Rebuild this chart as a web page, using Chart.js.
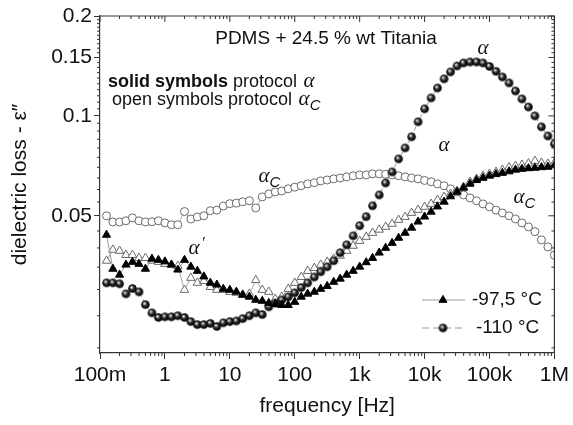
<!DOCTYPE html>
<html>
<head>
<meta charset="utf-8">
<script src="https://cdn.jsdelivr.net/npm/chart.js@4.4.1/dist/chart.umd.min.js"></script>
<style>
  html, body { margin: 0; padding: 0; background: #fff; }
  #wrap { width: 573px; height: 425px; }
</style>
</head>
<body>
<div id="wrap"><canvas id="chart" width="573" height="425"></canvas></div>
<script>
// frequency points [Hz], 10 per decade
const FREQ = [
  0.126, 0.158, 0.2, 0.251, 0.316, 0.398, 0.501, 0.631, 0.794,
  1, 1.26, 1.58, 2, 2.51, 3.16, 3.98, 5.01, 6.31, 7.94,
  10, 12.6, 15.8, 20, 25.1, 31.6, 39.8, 50.1, 63.1, 79.4,
  100, 126, 158, 200, 251, 316, 398, 501, 631, 794,
  1e3, 1.26e3, 1.58e3, 2e3, 2.51e3, 3.16e3, 3.98e3, 5.01e3, 6.31e3, 7.94e3,
  1e4, 1.26e4, 1.58e4, 2e4, 2.51e4, 3.16e4, 3.98e4, 5.01e4, 6.31e4, 7.94e4,
  1e5, 1.26e5, 1.58e5, 2e5, 2.51e5, 3.16e5, 3.98e5, 5.01e5, 6.31e5, 7.94e5,
  1e6
];

// -97,5 C, protocol alpha (solid triangles)
const TRI_SOLID = [
  0.0438, 0.0346, 0.0332, 0.0356, 0.0363, 0.0358, 0.0346, 0.0371, 0.0368,
  0.0364, 0.0356, 0.0344, 0.0368, 0.0351, 0.0341, 0.0328, 0.0314, 0.0310, 0.0301,
  0.0299, 0.0295, 0.0289, 0.0285, 0.0279, 0.0277, 0.0273, 0.0271, 0.0269, 0.0269,
  0.0275, 0.0285, 0.0291, 0.0295, 0.0301, 0.0307, 0.0316, 0.0323, 0.0332, 0.0341,
  0.0351, 0.0362, 0.0373, 0.0387, 0.0400, 0.0414, 0.0429, 0.0444, 0.0460, 0.0480,
  0.0497, 0.0514, 0.0533, 0.0551, 0.0572, 0.0590, 0.0607, 0.0624, 0.0640, 0.0650,
  0.0660, 0.0667, 0.0673, 0.0680, 0.0688, 0.0692, 0.0695, 0.0697, 0.0700, 0.0702,
  0.0709
];

// -97,5 C, protocol alpha_C (open triangles)
const TRI_OPEN = [
  0.0366, 0.0395, 0.0392, 0.0381, 0.0381, 0.0373, 0.0373, 0.0366, 0.0363,
  0.0358, 0.0356, 0.0353, 0.0299, 0.0325, 0.0314, 0.0318, 0.0305, 0.0299, 0.0299,
  0.0295, 0.0293, 0.0289, 0.0291, 0.0320, 0.0299, 0.0295, 0.0281, 0.0285, 0.0301,
  0.0314, 0.0327, 0.0341, 0.0348, 0.0356, 0.0363, 0.0371, 0.0379, 0.0392, 0.0406,
  0.0420, 0.0432, 0.0444, 0.0454, 0.0463, 0.0473, 0.0486, 0.0496, 0.0510, 0.0521,
  0.0532, 0.0543, 0.0558, 0.0570, 0.0582, 0.0594, 0.0611, 0.0633, 0.0646, 0.0660,
  0.0669, 0.0678, 0.0688, 0.0700, 0.0707, 0.0712, 0.0719, 0.0732, 0.0722, 0.0717,
  0.0722
];

// -110 C, protocol alpha (solid spheres)
const BALL_SOLID = [
  0.0314, 0.0314, 0.0312, 0.0291, 0.0302, 0.0295, 0.0270, 0.0255, 0.0247,
  0.0248, 0.0248, 0.0250, 0.0247, 0.0240, 0.0235, 0.0235, 0.0237, 0.0232, 0.0238,
  0.0240, 0.0241, 0.0245, 0.0250, 0.0255, 0.0252, 0.0266, 0.0273, 0.0279, 0.0285,
  0.0293, 0.0304, 0.0314, 0.0327, 0.0339, 0.0351, 0.0366, 0.0387, 0.0409, 0.0435,
  0.0467, 0.0497, 0.0536, 0.0578, 0.0628, 0.0678, 0.0742, 0.0801, 0.0865, 0.0960,
  0.1050, 0.1133, 0.1214, 0.1293, 0.1357, 0.1414, 0.1444, 0.1454, 0.1454, 0.1444,
  0.1410, 0.1362, 0.1310, 0.1257, 0.1189, 0.1125, 0.1064, 0.1000, 0.0927, 0.0870,
  0.0823
];

// -110 C, protocol alpha_C (open circles)
const CIRC_OPEN = [
  0.0500, 0.0479, 0.0479, 0.0483, 0.0493, 0.0483, 0.0479, 0.0480, 0.0483,
  0.0476, 0.0470, 0.0470, 0.0515, 0.0489, 0.0496, 0.0500, 0.0518, 0.0520, 0.0535,
  0.0544, 0.0546, 0.0551, 0.0555, 0.0528, 0.0570, 0.0582, 0.0590, 0.0594, 0.0603,
  0.0610, 0.0616, 0.0624, 0.0629, 0.0637, 0.0641, 0.0646, 0.0650, 0.0655, 0.0660,
  0.0664, 0.0664, 0.0669, 0.0669, 0.0667, 0.0664, 0.0660, 0.0655, 0.0650, 0.0646,
  0.0639, 0.0633, 0.0624, 0.0616, 0.0603, 0.0590, 0.0578, 0.0566, 0.0555, 0.0543,
  0.0532, 0.0520, 0.0510, 0.0500, 0.0489, 0.0476, 0.0463, 0.0448, 0.0423, 0.0403,
  0.0380
];

const X_TICKS = [0.1, 1, 10, 100, 1e3, 1e4, 1e5, 1e6];
const X_TICK_LABELS = ["100m", "1", "10", "100", "1k", "10k", "100k", "1M"];
const Y_TICKS = [0.05, 0.1, 0.15, 0.2];
const Y_TICK_LABELS = ["0.05", "0.1", "0.15", "0.2"];
const LEGEND_LABELS = ["-97,5 \u00B0C", "-110 \u00B0C"];

const SANS = "'Liberation Sans', Arial, sans-serif";
const SERIF = "'Liberation Serif', 'Times New Roman', serif";
const AXIS = "#333";

// shaded black ball used for the -110 C protocol alpha points
function makeBall(r) {
  const s = Math.ceil(r * 2 + 2);
  const c = document.createElement("canvas");
  c.width = s; c.height = s;
  const g = c.getContext("2d");
  const cx = s / 2, cy = s / 2;
  const grad = g.createRadialGradient(cx - r * 0.3, cy - r * 0.35, 0, cx, cy, r);
  grad.addColorStop(0, "#ffffff");
  grad.addColorStop(0.22, "#b0b0b0");
  grad.addColorStop(0.5, "#2a2a2a");
  grad.addColorStop(1, "#000");
  g.fillStyle = grad;
  g.beginPath();
  g.arc(cx, cy, r, 0, Math.PI * 2);
  g.fill();
  return c;
}
const BALL = makeBall(4.3);

function pts(vals) {
  return FREQ.map((f, i) => ({ x: f, y: vals[i] }));
}

// alpha with optional subscript C / prime
function drawAlpha(ctx, x, y, opt) {
  opt = opt || {};
  ctx.font = "italic 21px " + SERIF;
  ctx.textAlign = "center";
  ctx.textBaseline = "middle";
  ctx.fillText("\u03B1", x, y);
  if (opt.sub) {
    ctx.font = "italic 15px " + SANS;
    ctx.fillText("C", x + 11, y + 7);
  }
  if (opt.prime) {
    ctx.font = "italic 16px " + SERIF;
    ctx.fillText("\u2032", x + 9, y - 4);
  }
}

const decor = {
  id: "decor",
  afterDraw(chart) {
    const { ctx, chartArea: a, scales } = chart;
    const xs = scales.x, ys = scales.y;
    ctx.save();

    // frame on top and right
    ctx.strokeStyle = AXIS;
    ctx.lineWidth = 1.2;
    ctx.beginPath();
    ctx.moveTo(a.left, a.top);
    ctx.lineTo(a.right, a.top);
    ctx.lineTo(a.right, a.bottom);
    ctx.stroke();

    // ticks: majors mirrored inward, minors everywhere
    ctx.lineWidth = 1;
    ctx.beginPath();
    X_TICKS.forEach(v => {
      const px = xs.getPixelForValue(v);
      ctx.moveTo(px, a.top); ctx.lineTo(px, a.top + 6);
    });
    for (let d = 0.1; d < 1e6; d *= 10) {
      for (let m = 2; m <= 9; m++) {
        const px = xs.getPixelForValue(m * d);
        ctx.moveTo(px, a.bottom); ctx.lineTo(px, a.bottom + 3);
        ctx.moveTo(px, a.top); ctx.lineTo(px, a.top + 3);
      }
    }
    Y_TICKS.forEach(v => {
      const py = ys.getPixelForValue(v);
      ctx.moveTo(a.right, py); ctx.lineTo(a.right - 6, py);
    });
    for (let k = 4; k < 40; k++) {
      const v = k * 0.005;
      if (Y_TICKS.some(t => Math.abs(t - v) < 1e-9)) continue;
      const py = ys.getPixelForValue(v);
      if (py > a.bottom) continue;
      ctx.moveTo(a.left, py); ctx.lineTo(a.left - 3, py);
      ctx.moveTo(a.right, py); ctx.lineTo(a.right - 3, py);
    }
    ctx.stroke();

    // annotations
    ctx.fillStyle = "#111";
    ctx.font = "19px " + SANS;
    ctx.textAlign = "center";
    ctx.textBaseline = "middle";
    ctx.fillText("PDMS + 24.5 % wt Titania", 326, 39);

    ctx.textAlign = "left";
    ctx.font = "bold 18px " + SANS;
    let x0 = 108;
    ctx.fillText("solid symbols", x0, 82);
    x0 += ctx.measureText("solid symbols").width;
    ctx.font = "18px " + SANS;
    ctx.fillText(" protocol ", x0, 82);
    x0 += ctx.measureText(" protocol ").width;
    drawAlpha(ctx, x0 + 7, 81);

    ctx.textAlign = "left";
    ctx.font = "18px " + SANS;
    x0 = 112;
    ctx.fillText("open symbols protocol ", x0, 100);
    x0 += ctx.measureText("open symbols protocol ").width;
    drawAlpha(ctx, x0 + 7, 99, { sub: true });

    drawAlpha(ctx, 264, 176, { sub: true });
    drawAlpha(ctx, 483, 48);
    drawAlpha(ctx, 444, 145);
    drawAlpha(ctx, 519, 197, { sub: true });
    drawAlpha(ctx, 194, 248, { prime: true });

    // legend
    const rows = [
      { y: 300, dash: [], marker: "tri" },
      { y: 328, dash: [7, 4], marker: "ball" }
    ];
    rows.forEach((r, i) => {
      ctx.strokeStyle = "#999";
      ctx.lineWidth = 1;
      ctx.setLineDash(r.dash);
      ctx.beginPath();
      ctx.moveTo(422, r.y); ctx.lineTo(465, r.y);
      ctx.stroke();
      ctx.setLineDash([]);
      if (r.marker === "tri") {
        ctx.fillStyle = "#000";
        ctx.strokeStyle = "#000";
        Chart.helpers.drawPoint(ctx, { pointStyle: "triangle", radius: 4.6, borderWidth: 1 }, 443, r.y);
      } else {
        ctx.drawImage(BALL, 443 - BALL.width / 2, r.y - BALL.height / 2);
      }
      ctx.fillStyle = "#111";
      ctx.font = "19px " + SANS;
      ctx.textAlign = "left";
      ctx.textBaseline = "middle";
      ctx.fillText(LEGEND_LABELS[i], i === 0 ? 472 : 476, r.y);
    });

    ctx.restore();
  }
};

new Chart(document.getElementById("chart"), {
  type: "line",
  data: {
    datasets: [
      {
        label: "-97,5 C alpha",
        data: pts(TRI_SOLID),
        borderColor: "#9a9a9a", borderWidth: 1,
        pointStyle: "triangle", pointRadius: 4.7,
        pointBackgroundColor: "#000", pointBorderColor: "#000", pointBorderWidth: 1
      },
      {
        label: "-110 C alpha",
        data: pts(BALL_SOLID),
        borderColor: "#9a9a9a", borderWidth: 1, borderDash: [4, 3],
        pointStyle: BALL, pointRadius: 4.3
      },
      {
        label: "-97,5 C alpha_C",
        data: pts(TRI_OPEN),
        borderColor: "#a8a8a8", borderWidth: 1,
        pointStyle: "triangle", pointRadius: 4.9,
        pointBackgroundColor: "#fff", pointBorderColor: "#6a6a6a", pointBorderWidth: 1
      },
      {
        label: "-110 C alpha_C",
        data: pts(CIRC_OPEN),
        borderColor: "#a8a8a8", borderWidth: 1,
        pointStyle: "circle", pointRadius: 4,
        pointBackgroundColor: "#fff", pointBorderColor: "#6a6a6a", pointBorderWidth: 1
      }
    ]
  },
  options: {
    responsive: false,
    animation: false,
    layout: { padding: { left: 0, top: 16, right: 17, bottom: 0 } },
    plugins: { legend: { display: false }, tooltip: { enabled: false } },
    scales: {
      x: {
        type: "logarithmic", position: "bottom", min: 0.1, max: 1e6,
        afterBuildTicks: s => { s.ticks = X_TICKS.map(v => ({ value: v })); },
        afterFit: s => { s.height = 72; },
        ticks: {
          autoSkip: false, maxRotation: 0, padding: 4, color: "#111",
          font: { family: SANS, size: 21 },
          callback: v => X_TICK_LABELS[X_TICKS.indexOf(v)]
        },
        grid: { drawOnChartArea: false, tickLength: 6, tickColor: AXIS, tickWidth: 1 },
        border: { color: AXIS, width: 1.2 },
        title: {
          display: true, text: "frequency [Hz]", color: "#111",
          font: { family: SANS, size: 21 }, padding: { top: 0, bottom: 6 }
        }
      },
      y: {
        type: "logarithmic", position: "left", min: 0.0193, max: 0.2,
        afterBuildTicks: s => { s.ticks = Y_TICKS.map(v => ({ value: v })); },
        afterFit: s => { s.width = 100; },
        ticks: {
          autoSkip: false, padding: 2, color: "#111",
          font: { family: SANS, size: 21 },
          callback: v => Y_TICK_LABELS[Y_TICKS.indexOf(v)]
        },
        grid: { drawOnChartArea: false, tickLength: 6, tickColor: AXIS, tickWidth: 1 },
        border: { color: AXIS, width: 1.2 },
        title: {
          display: true, text: "dielectric loss - \u03B5\u2033", color: "#111",
          font: { family: SANS, size: 21 }, padding: { top: 8, bottom: 0 }
        }
      }
    }
  },
  plugins: [decor]
});
</script>
</body>
</html>
